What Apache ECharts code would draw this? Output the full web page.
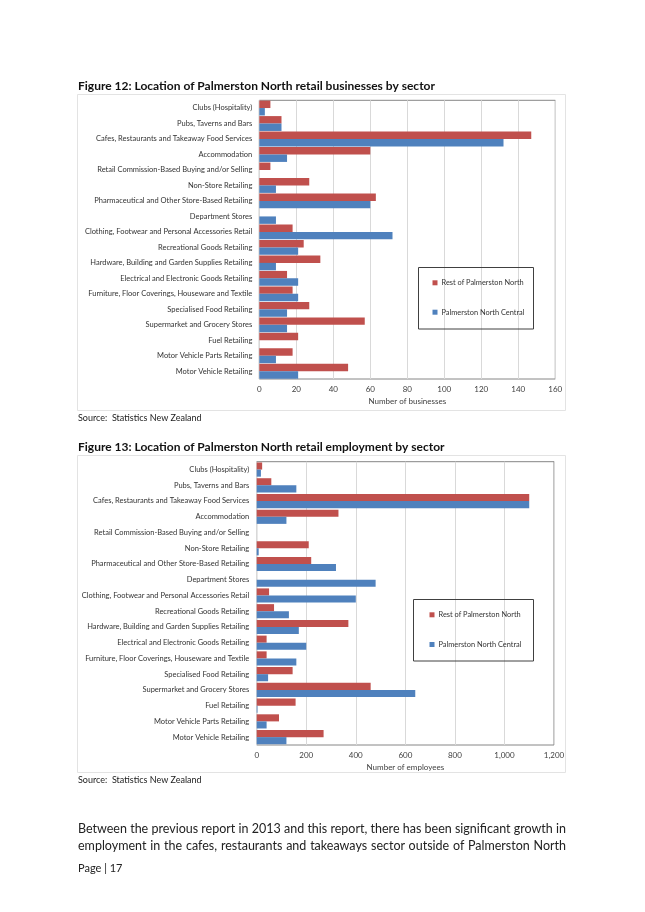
<!DOCTYPE html>
<html><head><meta charset="utf-8">
<script src="https://cdn.jsdelivr.net/npm/echarts@6/dist/echarts.min.js"></script>
<style>
html,body{margin:0;padding:0;background:#fff;}
#c{position:absolute;left:0;top:0;width:645px;height:912px;}
.p{position:absolute;left:78px;width:488px;font-family:Lato,'Noto Sans',sans-serif;font-size:12.5px;color:#222;white-space:nowrap;text-align:justify;text-align-last:justify;line-height:17px;}
</style></head><body>
<div id="c"></div>
<div class="p" style="top:819.5px;">Between the previous report in 2013 and this report, there has been significant growth in</div>
<div class="p" style="top:836.5px;">employment in the cafes, restaurants and takeaways sector outside of Palmerston North</div>
<script>
var categories = [
  "Clubs (Hospitality)",
  "Pubs, Taverns and Bars",
  "Cafes, Restaurants and Takeaway Food Services",
  "Accommodation",
  "Retail Commission-Based Buying and/or Selling",
  "Non-Store Retailing",
  "Pharmaceutical and Other Store-Based Retailing",
  "Department Stores",
  "Clothing, Footwear and Personal Accessories Retail",
  "Recreational Goods Retailing",
  "Hardware, Building and Garden Supplies Retailing",
  "Electrical and Electronic Goods Retailing",
  "Furniture, Floor Coverings, Houseware and Textile",
  "Specialised Food Retailing",
  "Supermarket and Grocery Stores",
  "Fuel Retailing",
  "Motor Vehicle Parts Retailing",
  "Motor Vehicle Retailing"
];
var seriesNames = ["Rest of Palmerston North", "Palmerston North Central"];
var businessRest    = [6, 12, 147, 60, 6, 27, 63, 0, 18, 24, 33, 15, 18, 27, 57, 21, 18, 48];
var businessCentral = [3, 12, 132, 15, 0, 9, 60, 9, 72, 21, 9, 21, 21, 15, 15, 0, 9, 21];
var employRest      = [22, 59, 1100, 330, 0, 210, 220, 0, 50, 70, 370, 40, 40, 145, 460, 157, 90, 270];
var employCentral   = [17, 160, 1100, 120, 0, 8, 320, 480, 400, 130, 170, 200, 160, 46, 640, 3, 40, 120];
var businessTicks = [0, 20, 40, 60, 80, 100, 120, 140, 160];
var employTicks   = [0, 200, 400, 600, 800, 1000, 1200];

var FONT = "Lato";
var RED = "#C0504D", BLUE = "#4F81BD";
var chart = echarts.init(document.getElementById("c"), null, {renderer: "canvas"});

function fmt(v){ return String(v).replace(/\B(?=(\d{3})+(?!\d))/g, ","); }

function xAx(idx, ticks, name){
  return {
    gridIndex: idx, type: "value",
    min: ticks[0], max: ticks[ticks.length-1], interval: ticks[1]-ticks[0],
    axisLine: {show: false}, axisTick: {show: false},
    splitLine: {show: true, lineStyle: {color: "#D9D9D9", width: 1}},
    axisLabel: {fontFamily: FONT, fontSize: 8, color: "#404040", margin: 6, formatter: fmt},
    name: name, nameLocation: "middle", nameGap: 18,
    nameTextStyle: {fontFamily: FONT, fontSize: 8, color: "#404040"}
  };
}
function yAx(idx, margin){
  return {
    gridIndex: idx, type: "category", data: categories, inverse: true,
    axisLine: {show: false}, axisTick: {show: false},
    axisLabel: {fontFamily: FONT, fontSize: 7.5, color: "#333", margin: margin, interval: 0}
  };
}
function leg(left, top, gap){
  return {orient: "vertical", left: left, top: top, padding: 0, itemWidth: 5, itemHeight: 5, itemGap: gap, icon: "rect",
    data: seriesNames, textStyle: {fontFamily: FONT, fontSize: 7.4, color: "#333", padding: [0, 0, 0, -1]}, selectedMode: false};
}

chart.setOption({
  animation: false,
  grid: [
    {left: 259.3, top: 100.3, width: 296, height: 278.7, show: true, borderColor: "#868686", borderWidth: 1, containLabel: false},
    {left: 256.7, top: 461.7, width: 297.3, height: 283.3, show: true, borderColor: "#868686", borderWidth: 1, containLabel: false}
  ],
  xAxis: [xAx(0, businessTicks, "Number of businesses"), xAx(1, employTicks, "Number of employees")],
  yAxis: [yAx(0, 7), yAx(1, 7.5)],
  legend: [leg(432.5, 279.3, 22.4), leg(429.5, 611.3, 22.7)],
  series: [
    {name: seriesNames[0], type: "bar", xAxisIndex: 0, yAxisIndex: 0, data: businessRest, itemStyle: {color: RED}, barGap: "0%", barCategoryGap: "4%"},
    {name: seriesNames[1], type: "bar", xAxisIndex: 0, yAxisIndex: 0, data: businessCentral, itemStyle: {color: BLUE}, barGap: "0%", barCategoryGap: "4%"},
    {name: seriesNames[0], type: "bar", xAxisIndex: 1, yAxisIndex: 1, data: employRest, itemStyle: {color: RED}, barGap: "0%", barCategoryGap: "10%"},
    {name: seriesNames[1], type: "bar", xAxisIndex: 1, yAxisIndex: 1, data: employCentral, itemStyle: {color: BLUE}, barGap: "0%", barCategoryGap: "10%"}
  ],
  graphic: [
    {type: "rect", shape: {x: 77.5, y: 94.5, width: 488, height: 316}, style: {fill: "none", stroke: "#E3E3E3", lineWidth: 1}, silent: true},
    {type: "rect", shape: {x: 77.5, y: 455.5, width: 488, height: 317}, style: {fill: "none", stroke: "#E3E3E3", lineWidth: 1}, silent: true},
    {type: "rect", shape: {x: 418.5, y: 267.5, width: 115, height: 61.5}, style: {fill: "none", stroke: "#404040", lineWidth: 1}, silent: true, z: 10},
    {type: "rect", shape: {x: 413.5, y: 599.5, width: 120, height: 61.5}, style: {fill: "none", stroke: "#404040", lineWidth: 1}, silent: true, z: 10},
    {type: "text", x: 78, y: 86, style: {text: "Figure 12: Location of Palmerston North retail businesses by sector", fontFamily: FONT, fontWeight: "bold", fontSize: 12, fill: "#111", verticalAlign: "middle"}},
    {type: "text", x: 78, y: 447, style: {text: "Figure 13: Location of Palmerston North retail employment by sector", fontFamily: FONT, fontWeight: "bold", fontSize: 12, fill: "#111", verticalAlign: "middle"}},
    {type: "text", x: 78, y: 418, style: {text: "Source:  Statistics New Zealand", fontFamily: FONT, fontSize: 9, fill: "#222", verticalAlign: "middle"}},
    {type: "text", x: 78, y: 780, style: {text: "Source:  Statistics New Zealand", fontFamily: FONT, fontSize: 9, fill: "#222", verticalAlign: "middle"}},
    {type: "text", x: 78, y: 868, style: {text: "Page | 17", fontFamily: FONT, fontSize: 11, fill: "#222", verticalAlign: "middle"}}
  ]
});
</script>
</body></html>
